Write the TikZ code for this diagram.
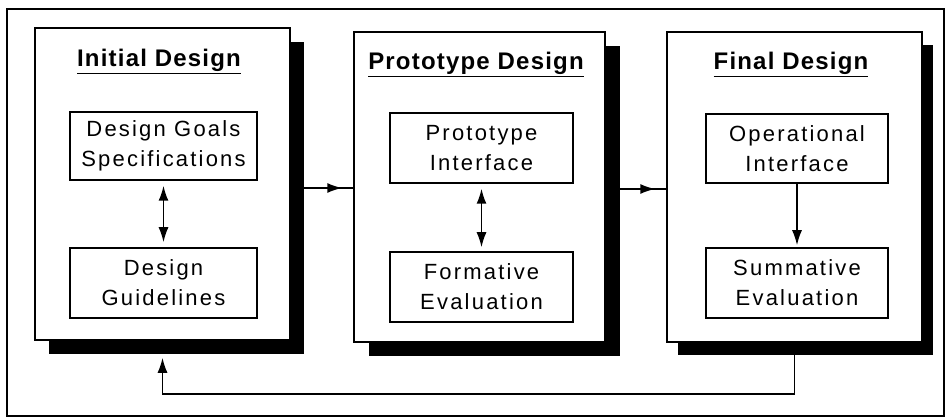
\documentclass[tikz,border=0pt]{standalone}
\usepackage{fontspec}
\setmainfont{Liberation Sans}
\newfontfamily\boxfont[LetterSpace=10]{Liberation Sans}
\newfontfamily\ttlfont[LetterSpace=5]{Liberation Sans}
\usetikzlibrary{shadows,arrows.meta,decorations.markings}
\tikzset{
  panel/.style={draw=black, line width=1.5pt, fill=white, minimum width=#1, inner sep=0pt, minimum height=310pt},
  inbox/.style={draw=black, line width=1.5pt, fill=white, inner sep=0pt, align=center,
    font=\boxfont\fontsize{22}{30}\selectfont},
  ttl/.style={anchor=base, inner sep=0pt, font=\ttlfont\bfseries\fontsize{24}{28}\selectfont},
  conn/.style={line width=1.6pt},
  ahead/.tip={Latex[length=15pt,width=10pt]},
  tip/.style={-ahead},
  dtip/.style={ahead-ahead},
  midarrow/.style={decoration={markings, mark=at position -11pt with {\arrow{ahead}}}, postaction={decorate}}
}
\begin{document}
\begin{tikzpicture}[x=1pt,y=-1pt]
\useasboundingbox (0,0) rectangle (947,419);
\draw[line width=1.8pt] (7,9) rectangle (944,416);

% panels
\node[panel=255pt, minimum height=312pt, drop shadow={shadow xshift=14pt, shadow yshift=-14pt, fill=black, opacity=1}] (p1) at (162.5,184) {};
\node[panel=251pt, drop shadow={shadow xshift=15pt, shadow yshift=-14pt, fill=black, opacity=1}] (p2) at (479.5,187) {};
\node[panel=255pt, drop shadow={shadow xshift=11pt, shadow yshift=-13pt, fill=black, opacity=1}] (p3) at (794.5,187) {};

% titles
\node[ttl] (t1) at (159,67) {\underline{Initial Design}};
\node[ttl] (t2) at (476,70) {\underline{Prototype Design}};
\node[ttl] (t3) at (791,70) {\underline{Final Design}};

% inner boxes
\node[inbox, minimum width=187pt, minimum height=68pt] (a1) at (163.5,146) {Design Goals\\Specifications};
\node[inbox, minimum width=187pt, minimum height=70pt] (b1) at (163.5,283) {Design\\Guidelines};
\node[inbox, minimum width=183pt, minimum height=70pt] (a2) at (481.5,148) {Prototype\\Interface};
\node[inbox, minimum width=183pt, minimum height=70pt] (b2) at (481.5,287) {Formative\\Evaluation};
\node[inbox, minimum width=182pt, minimum height=69pt] (a3) at (797,148.5) {Operational\\Interface};
\node[inbox, minimum width=182pt, minimum height=70pt] (b3) at (797,283) {Summative\\Evaluation};

% connectors inside panels
\draw[conn, dtip, shorten <=5pt, shorten >=5pt] (a1.south) -- (b1.north);
\draw[conn, dtip, shorten <=5pt, shorten >=4pt] (a2.south) -- (b2.north);
\draw[conn, tip, shorten >=2pt] (a3.south) -- (b3.north);

% connectors between panels
\draw[conn, midarrow] (p1.east |- 0,188) -- (p2.west |- 0,188);
\draw[conn, midarrow] (p2.east |- 0,189) -- (p3.west |- 0,189);

% feedback
\draw[conn, tip, shorten >=17pt] (p3.south) -- ++(0,51) -| (p1.south);
\end{tikzpicture}
\end{document}
